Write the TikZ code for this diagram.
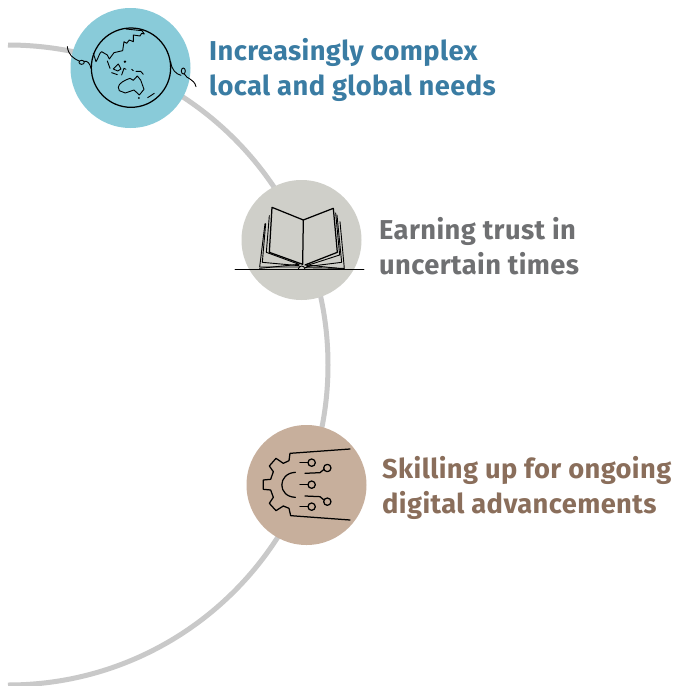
\documentclass[tikz,border=0pt]{standalone}
\usepackage{fontspec}
\setmainfont[LetterSpace=1.5]{Fira Sans}
\definecolor{arcgray}{HTML}{C9C9C9}
\definecolor{cblue}{HTML}{89CBD9}
\definecolor{cgray}{HTML}{CFCFC9}
\definecolor{ctan}{HTML}{C7AF9C}
\definecolor{tblue}{HTML}{3A7CA3}
\definecolor{tgray}{HTML}{6F7072}
\definecolor{tbrown}{HTML}{8A6E5B}
\tikzset{
  disc/.style={circle,minimum size=120pt,inner sep=0pt,outer sep=0pt},
  lab/.style={anchor=west,align=left,inner sep=0pt,font=\fontsize{27.3}{35}\selectfont\bfseries},
  ink/.style={draw=black,line width=1.25pt,line cap=round,line join=round},
  thin ink/.style={draw=black,line width=0.9pt,line cap=round,line join=round},
}
\begin{document}
\begin{tikzpicture}[x=1pt,y=-1pt]
\useasboundingbox (0,0) rectangle (676,686);
\fill[white] (0,0) rectangle (676,686);
\draw[arcgray,line width=5pt] (8,45) arc[start angle=90,end angle=-90,radius=320pt];
\node[disc,fill=cblue] (globe) at (130.5,68) {};
\node[disc,fill=cgray] (book) at (301.5,240) {};
\node[disc,fill=ctan] (gear) at (306.5,485) {};
\node[lab,text=tblue] (t1) at (209,70) {Increasingly complex\\local and global needs};
\node[lab,text=tgray] (t2) at (379,246.5) {Earning trust in\\uncertain times};
\node[lab,text=tbrown] (t3) at (382,488) {Skilling up for ongoing\\digital advancements};
% globe icon
\begin{scope}[shift={(50,0)},x=0.3333pt,y=-0.3333pt]
\draw[ink] (243,203) circle[radius=119];
\draw[thin ink] (52,140) .. controls (55,165) and (70,175) .. (87,183);
\draw[thin ink] (95,187) circle[x radius=8,y radius=6];
\draw[thin ink] (103,184) .. controls (112,182) and (120,190) .. (123,205);
\draw[thin ink] (362,185) .. controls (365,210) and (378,222) .. (393,226);
\draw[thin ink] (400,213) circle[x radius=6,y radius=9];
\draw[thin ink] (403,222) .. controls (410,238) and (432,235) .. (438,260);
\draw[thin ink] (130,160) -- (138,185) .. controls (145,175) and (148,158) .. (155,155) -- (172,165) -- (178,177) -- (192,158) -- (218,152) -- (222,125) -- (230,130) -- (238,120) -- (250,125) -- (250,105) -- (270,108) -- (275,100) -- (283,102) -- (276,92) -- (228,87);
\draw[thin ink] (205,262) .. controls (205,250) and (225,240) .. (240,235) -- (250,241) -- (262,228) -- (272,240) -- (282,268) -- (268,285) -- (252,270) -- (226,279) -- (208,272) -- cycle;
\draw[thin ink] (190,207) -- (205,192) -- (213,207) -- (203,213) -- cycle;
\draw[thin ink] (172,183) -- (180,205);
\draw[thin ink] (185,218) -- (202,224);
\draw[thin ink] (215,225) -- (222,205) -- (228,208);
\draw[thin ink] (245,208) -- (250,212);
\draw[thin ink] (258,214) -- (272,214) -- (280,223);
\draw[thin ink] (293,293) -- (313,280);
\fill (225,185) circle[radius=4];
\fill (267,294) circle[radius=3];
\end{scope}
% book icon
\begin{scope}[shift={(225,175)},x=0.3333pt,y=-0.3333pt]
\draw[ink] (141,97) -- (235,135) -- (233,268) -- (133,232) -- cycle;
\draw[ink] (235,135) -- (325,100) -- (337,232) -- (240,270);
\draw[thin ink] (133,122) -- (124,232) -- (222,268);
\draw[thin ink] (122,146) -- (112,262) -- (222,272);
\draw[thin ink] (120,146) -- (104,276) -- (225,276);
\draw[thin ink] (332,114) -- (344,240) -- (245,272);
\draw[thin ink] (336,120) -- (350,262) -- (245,275);
\draw[thin ink] (345,140) -- (358,280) -- (240,278);
\draw[thin ink] (104,280) -- (222,268);
\draw[thin ink] (358,282) -- (245,270);
\draw[thin ink] (30,282) -- (417,282);
\draw[thin ink] (220,282) .. controls (222,270) and (238,270) .. (240,282);
\end{scope}
% gear icon
\begin{scope}[shift={(240,420)},x=0.3333pt,y=-0.3333pt]
\draw[ink] (330,87) -- (150,100) -- (147,122) -- (130,130) -- (108,115) -- (88,138) -- (100,155) -- (92,178) -- (70,180) -- (70,208) -- (92,210) -- (100,232) -- (88,250) -- (108,272) -- (130,258) -- (147,265) -- (152,287) -- (330,300);
\draw[ink] (166,157) .. controls (112,160) and (112,230) .. (166,232);
\draw[ink] (180,127) -- (204,127);
\draw[ink] (215,128) circle[radius=11];
\draw[ink] (195,160) -- (240,158) -- (252,148);
\draw[ink] (262,144) circle[radius=11];
\draw[ink] (180,194) -- (204,194);
\draw[ink] (215,194) circle[radius=11];
\draw[ink] (195,228) -- (240,230) -- (252,240);
\draw[ink] (262,245) circle[radius=11];
\draw[ink] (180,260) -- (204,260);
\draw[ink] (215,260) circle[radius=11];
\end{scope}
\end{tikzpicture}
\end{document}
